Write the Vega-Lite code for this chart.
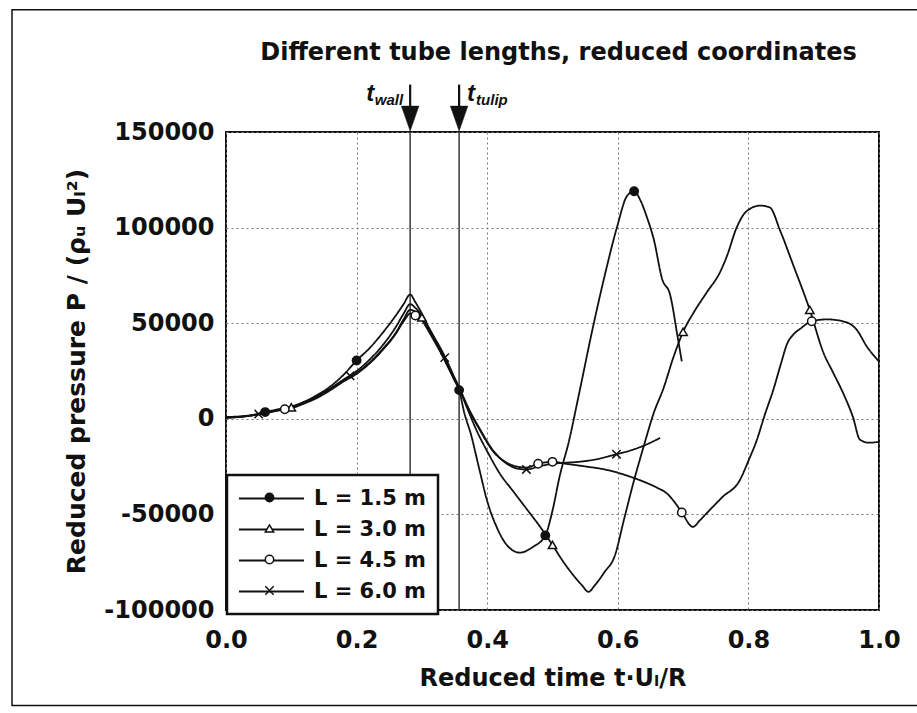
{
  "$schema": "https://vega.github.io/schema/vega-lite/v6.json",
  "width": 653,
  "height": 478,
  "autosize": {"type": "none"},
  "padding": {"left": 226, "top": 132, "right": 38, "bottom": 103},
  "background": "white",
  "title": {
    "text": "Different tube lengths, reduced coordinates",
    "font": "DejaVu Sans",
    "fontSize": 24,
    "fontWeight": "bold",
    "color": "#111",
    "anchor": "middle",
    "dx": 6,
    "offset": -56
  },
  "datasets": {
    "curves": [
      {"L": "L = 1.5 m", "t": 0, "p": 1000}, {"L": "L = 1.5 m", "t": 0.02, "p": 1200}, {"L": "L = 1.5 m", "t": 0.04, "p": 2000}, {"L": "L = 1.5 m", "t": 0.06, "p": 3500}, {"L": "L = 1.5 m", "t": 0.08, "p": 5000}, {"L": "L = 1.5 m", "t": 0.1, "p": 6500}, {"L": "L = 1.5 m", "t": 0.12, "p": 9000}, {"L": "L = 1.5 m", "t": 0.14, "p": 12500}, {"L": "L = 1.5 m", "t": 0.16, "p": 17000}, {"L": "L = 1.5 m", "t": 0.18, "p": 23000}, {"L": "L = 1.5 m", "t": 0.2, "p": 30500}, {"L": "L = 1.5 m", "t": 0.22, "p": 37000}, {"L": "L = 1.5 m", "t": 0.24, "p": 45000}, {"L": "L = 1.5 m", "t": 0.26, "p": 54000}, {"L": "L = 1.5 m", "t": 0.272, "p": 60000}, {"L": "L = 1.5 m", "t": 0.282, "p": 65000}, {"L": "L = 1.5 m", "t": 0.29, "p": 61000}, {"L": "L = 1.5 m", "t": 0.3, "p": 55000}, {"L": "L = 1.5 m", "t": 0.31, "p": 48000}, {"L": "L = 1.5 m", "t": 0.32, "p": 41000}, {"L": "L = 1.5 m", "t": 0.33, "p": 34000}, {"L": "L = 1.5 m", "t": 0.34, "p": 27000}, {"L": "L = 1.5 m", "t": 0.35, "p": 20000}, {"L": "L = 1.5 m", "t": 0.357, "p": 15000}, {"L": "L = 1.5 m", "t": 0.365, "p": 3000}, {"L": "L = 1.5 m", "t": 0.375, "p": -8000}, {"L": "L = 1.5 m", "t": 0.387, "p": -25000}, {"L": "L = 1.5 m", "t": 0.4, "p": -43000}, {"L": "L = 1.5 m", "t": 0.415, "p": -57000}, {"L": "L = 1.5 m", "t": 0.43, "p": -66000}, {"L": "L = 1.5 m", "t": 0.45, "p": -70000}, {"L": "L = 1.5 m", "t": 0.47, "p": -67000}, {"L": "L = 1.5 m", "t": 0.489, "p": -61000}, {"L": "L = 1.5 m", "t": 0.5, "p": -48000}, {"L": "L = 1.5 m", "t": 0.511, "p": -30000}, {"L": "L = 1.5 m", "t": 0.525, "p": -12000}, {"L": "L = 1.5 m", "t": 0.54, "p": 12000}, {"L": "L = 1.5 m", "t": 0.562, "p": 48000}, {"L": "L = 1.5 m", "t": 0.58, "p": 75000}, {"L": "L = 1.5 m", "t": 0.599, "p": 100500}, {"L": "L = 1.5 m", "t": 0.614, "p": 116500}, {"L": "L = 1.5 m", "t": 0.625, "p": 119000}, {"L": "L = 1.5 m", "t": 0.635, "p": 114000}, {"L": "L = 1.5 m", "t": 0.645, "p": 105000}, {"L": "L = 1.5 m", "t": 0.655, "p": 94000}, {"L": "L = 1.5 m", "t": 0.668, "p": 73000}, {"L": "L = 1.5 m", "t": 0.68, "p": 65000}, {"L": "L = 1.5 m", "t": 0.692, "p": 42000}, {"L": "L = 1.5 m", "t": 0.698, "p": 30000},

      {"L": "L = 3.0 m", "t": 0, "p": 500}, {"L": "L = 3.0 m", "t": 0.02, "p": 1000}, {"L": "L = 3.0 m", "t": 0.04, "p": 1800}, {"L": "L = 3.0 m", "t": 0.06, "p": 3000}, {"L": "L = 3.0 m", "t": 0.08, "p": 4500}, {"L": "L = 3.0 m", "t": 0.1, "p": 6000}, {"L": "L = 3.0 m", "t": 0.12, "p": 8500}, {"L": "L = 3.0 m", "t": 0.14, "p": 11500}, {"L": "L = 3.0 m", "t": 0.16, "p": 15500}, {"L": "L = 3.0 m", "t": 0.18, "p": 20000}, {"L": "L = 3.0 m", "t": 0.2, "p": 24000}, {"L": "L = 3.0 m", "t": 0.22, "p": 29500}, {"L": "L = 3.0 m", "t": 0.24, "p": 36500}, {"L": "L = 3.0 m", "t": 0.26, "p": 45000}, {"L": "L = 3.0 m", "t": 0.272, "p": 52000}, {"L": "L = 3.0 m", "t": 0.282, "p": 57000}, {"L": "L = 3.0 m", "t": 0.29, "p": 56000}, {"L": "L = 3.0 m", "t": 0.3, "p": 53000}, {"L": "L = 3.0 m", "t": 0.31, "p": 47000}, {"L": "L = 3.0 m", "t": 0.32, "p": 41000}, {"L": "L = 3.0 m", "t": 0.33, "p": 34500}, {"L": "L = 3.0 m", "t": 0.34, "p": 28000}, {"L": "L = 3.0 m", "t": 0.35, "p": 21000}, {"L": "L = 3.0 m", "t": 0.357, "p": 16000}, {"L": "L = 3.0 m", "t": 0.37, "p": 5000}, {"L": "L = 3.0 m", "t": 0.385, "p": -7000}, {"L": "L = 3.0 m", "t": 0.4, "p": -17000}, {"L": "L = 3.0 m", "t": 0.42, "p": -29000}, {"L": "L = 3.0 m", "t": 0.44, "p": -38000}, {"L": "L = 3.0 m", "t": 0.46, "p": -47000}, {"L": "L = 3.0 m", "t": 0.48, "p": -56000}, {"L": "L = 3.0 m", "t": 0.5, "p": -66000}, {"L": "L = 3.0 m", "t": 0.515, "p": -74000}, {"L": "L = 3.0 m", "t": 0.53, "p": -81000}, {"L": "L = 3.0 m", "t": 0.545, "p": -87000}, {"L": "L = 3.0 m", "t": 0.555, "p": -90500}, {"L": "L = 3.0 m", "t": 0.565, "p": -87000}, {"L": "L = 3.0 m", "t": 0.58, "p": -80000}, {"L": "L = 3.0 m", "t": 0.595, "p": -72000}, {"L": "L = 3.0 m", "t": 0.61, "p": -52000}, {"L": "L = 3.0 m", "t": 0.625, "p": -32000}, {"L": "L = 3.0 m", "t": 0.64, "p": -14000}, {"L": "L = 3.0 m", "t": 0.655, "p": 3000}, {"L": "L = 3.0 m", "t": 0.67, "p": 16000}, {"L": "L = 3.0 m", "t": 0.685, "p": 32000}, {"L": "L = 3.0 m", "t": 0.7, "p": 45500}, {"L": "L = 3.0 m", "t": 0.716, "p": 55500}, {"L": "L = 3.0 m", "t": 0.736, "p": 66000}, {"L": "L = 3.0 m", "t": 0.757, "p": 77000}, {"L": "L = 3.0 m", "t": 0.767, "p": 85000}, {"L": "L = 3.0 m", "t": 0.782, "p": 100000}, {"L": "L = 3.0 m", "t": 0.797, "p": 108500}, {"L": "L = 3.0 m", "t": 0.818, "p": 111500}, {"L": "L = 3.0 m", "t": 0.833, "p": 110500}, {"L": "L = 3.0 m", "t": 0.848, "p": 99000}, {"L": "L = 3.0 m", "t": 0.868, "p": 81000}, {"L": "L = 3.0 m", "t": 0.894, "p": 57000}, {"L": "L = 3.0 m", "t": 0.915, "p": 34500}, {"L": "L = 3.0 m", "t": 0.93, "p": 24000}, {"L": "L = 3.0 m", "t": 0.945, "p": 13500}, {"L": "L = 3.0 m", "t": 0.96, "p": 1000}, {"L": "L = 3.0 m", "t": 0.971, "p": -11000}, {"L": "L = 3.0 m", "t": 0.985, "p": -12500}, {"L": "L = 3.0 m", "t": 1.0, "p": -12000},

      {"L": "L = 4.5 m", "t": 0, "p": 500}, {"L": "L = 4.5 m", "t": 0.02, "p": 1000}, {"L": "L = 4.5 m", "t": 0.04, "p": 1800}, {"L": "L = 4.5 m", "t": 0.06, "p": 3000}, {"L": "L = 4.5 m", "t": 0.08, "p": 4300}, {"L": "L = 4.5 m", "t": 0.1, "p": 5500}, {"L": "L = 4.5 m", "t": 0.12, "p": 8000}, {"L": "L = 4.5 m", "t": 0.14, "p": 11000}, {"L": "L = 4.5 m", "t": 0.16, "p": 15000}, {"L": "L = 4.5 m", "t": 0.18, "p": 19500}, {"L": "L = 4.5 m", "t": 0.2, "p": 23500}, {"L": "L = 4.5 m", "t": 0.22, "p": 29000}, {"L": "L = 4.5 m", "t": 0.24, "p": 36000}, {"L": "L = 4.5 m", "t": 0.26, "p": 44500}, {"L": "L = 4.5 m", "t": 0.272, "p": 51000}, {"L": "L = 4.5 m", "t": 0.282, "p": 55000}, {"L": "L = 4.5 m", "t": 0.29, "p": 54000}, {"L": "L = 4.5 m", "t": 0.3, "p": 51500}, {"L": "L = 4.5 m", "t": 0.31, "p": 46000}, {"L": "L = 4.5 m", "t": 0.32, "p": 40000}, {"L": "L = 4.5 m", "t": 0.33, "p": 34000}, {"L": "L = 4.5 m", "t": 0.34, "p": 27500}, {"L": "L = 4.5 m", "t": 0.35, "p": 20500}, {"L": "L = 4.5 m", "t": 0.357, "p": 16000}, {"L": "L = 4.5 m", "t": 0.37, "p": 6000}, {"L": "L = 4.5 m", "t": 0.389, "p": -6000}, {"L": "L = 4.5 m", "t": 0.409, "p": -17000}, {"L": "L = 4.5 m", "t": 0.43, "p": -23000}, {"L": "L = 4.5 m", "t": 0.446, "p": -25000}, {"L": "L = 4.5 m", "t": 0.46, "p": -25500}, {"L": "L = 4.5 m", "t": 0.478, "p": -23500}, {"L": "L = 4.5 m", "t": 0.5, "p": -22500}, {"L": "L = 4.5 m", "t": 0.52, "p": -23500}, {"L": "L = 4.5 m", "t": 0.552, "p": -25000}, {"L": "L = 4.5 m", "t": 0.58, "p": -26500}, {"L": "L = 4.5 m", "t": 0.603, "p": -28500}, {"L": "L = 4.5 m", "t": 0.625, "p": -31000}, {"L": "L = 4.5 m", "t": 0.644, "p": -33500}, {"L": "L = 4.5 m", "t": 0.66, "p": -36000}, {"L": "L = 4.5 m", "t": 0.675, "p": -39000}, {"L": "L = 4.5 m", "t": 0.69, "p": -45000}, {"L": "L = 4.5 m", "t": 0.698, "p": -49000}, {"L": "L = 4.5 m", "t": 0.715, "p": -56500}, {"L": "L = 4.5 m", "t": 0.726, "p": -53000}, {"L": "L = 4.5 m", "t": 0.74, "p": -48000}, {"L": "L = 4.5 m", "t": 0.76, "p": -41000}, {"L": "L = 4.5 m", "t": 0.787, "p": -32000}, {"L": "L = 4.5 m", "t": 0.8, "p": -22000}, {"L": "L = 4.5 m", "t": 0.813, "p": -11000}, {"L": "L = 4.5 m", "t": 0.825, "p": 2000}, {"L": "L = 4.5 m", "t": 0.838, "p": 15000}, {"L": "L = 4.5 m", "t": 0.85, "p": 29000}, {"L": "L = 4.5 m", "t": 0.859, "p": 39000}, {"L": "L = 4.5 m", "t": 0.87, "p": 44500}, {"L": "L = 4.5 m", "t": 0.879, "p": 47000}, {"L": "L = 4.5 m", "t": 0.897, "p": 51000}, {"L": "L = 4.5 m", "t": 0.92, "p": 52000}, {"L": "L = 4.5 m", "t": 0.945, "p": 51000}, {"L": "L = 4.5 m", "t": 0.966, "p": 46500}, {"L": "L = 4.5 m", "t": 0.981, "p": 38000}, {"L": "L = 4.5 m", "t": 1.0, "p": 30000},

      {"L": "L = 6.0 m", "t": 0, "p": 800}, {"L": "L = 6.0 m", "t": 0.02, "p": 1000}, {"L": "L = 6.0 m", "t": 0.04, "p": 1800}, {"L": "L = 6.0 m", "t": 0.06, "p": 3200}, {"L": "L = 6.0 m", "t": 0.08, "p": 4500}, {"L": "L = 6.0 m", "t": 0.1, "p": 6000}, {"L": "L = 6.0 m", "t": 0.12, "p": 8500}, {"L": "L = 6.0 m", "t": 0.14, "p": 12000}, {"L": "L = 6.0 m", "t": 0.16, "p": 16000}, {"L": "L = 6.0 m", "t": 0.18, "p": 20500}, {"L": "L = 6.0 m", "t": 0.2, "p": 25000}, {"L": "L = 6.0 m", "t": 0.22, "p": 31000}, {"L": "L = 6.0 m", "t": 0.24, "p": 38500}, {"L": "L = 6.0 m", "t": 0.26, "p": 48000}, {"L": "L = 6.0 m", "t": 0.272, "p": 55000}, {"L": "L = 6.0 m", "t": 0.282, "p": 60000}, {"L": "L = 6.0 m", "t": 0.29, "p": 58000}, {"L": "L = 6.0 m", "t": 0.3, "p": 54000}, {"L": "L = 6.0 m", "t": 0.31, "p": 48000}, {"L": "L = 6.0 m", "t": 0.32, "p": 42000}, {"L": "L = 6.0 m", "t": 0.33, "p": 36000}, {"L": "L = 6.0 m", "t": 0.34, "p": 29000}, {"L": "L = 6.0 m", "t": 0.35, "p": 21500}, {"L": "L = 6.0 m", "t": 0.357, "p": 16500}, {"L": "L = 6.0 m", "t": 0.37, "p": 6500}, {"L": "L = 6.0 m", "t": 0.389, "p": -5500}, {"L": "L = 6.0 m", "t": 0.409, "p": -16500}, {"L": "L = 6.0 m", "t": 0.43, "p": -23500}, {"L": "L = 6.0 m", "t": 0.446, "p": -26000}, {"L": "L = 6.0 m", "t": 0.46, "p": -26500}, {"L": "L = 6.0 m", "t": 0.478, "p": -25000}, {"L": "L = 6.0 m", "t": 0.5, "p": -23500}, {"L": "L = 6.0 m", "t": 0.52, "p": -23000}, {"L": "L = 6.0 m", "t": 0.54, "p": -22500}, {"L": "L = 6.0 m", "t": 0.57, "p": -21000}, {"L": "L = 6.0 m", "t": 0.598, "p": -18500}, {"L": "L = 6.0 m", "t": 0.62, "p": -16500}, {"L": "L = 6.0 m", "t": 0.64, "p": -14000}, {"L": "L = 6.0 m", "t": 0.665, "p": -10000}
    ],
    "markers": [
      {"L": "L = 1.5 m", "t": 0.06, "p": 3500}, {"L": "L = 1.5 m", "t": 0.2, "p": 30500}, {"L": "L = 1.5 m", "t": 0.357, "p": 15000}, {"L": "L = 1.5 m", "t": 0.489, "p": -61000}, {"L": "L = 1.5 m", "t": 0.625, "p": 119000},
      {"L": "L = 3.0 m", "t": 0.1, "p": 6000}, {"L": "L = 3.0 m", "t": 0.3, "p": 53000}, {"L": "L = 3.0 m", "t": 0.5, "p": -66000}, {"L": "L = 3.0 m", "t": 0.7, "p": 45500}, {"L": "L = 3.0 m", "t": 0.894, "p": 57000},
      {"L": "L = 4.5 m", "t": 0.09, "p": 5000}, {"L": "L = 4.5 m", "t": 0.29, "p": 54000}, {"L": "L = 4.5 m", "t": 0.478, "p": -23500}, {"L": "L = 4.5 m", "t": 0.5, "p": -22500}, {"L": "L = 4.5 m", "t": 0.698, "p": -49000}, {"L": "L = 4.5 m", "t": 0.897, "p": 51000},
      {"L": "L = 6.0 m", "t": 0.05, "p": 2500}, {"L": "L = 6.0 m", "t": 0.19, "p": 22500}, {"L": "L = 6.0 m", "t": 0.335, "p": 32000}, {"L": "L = 6.0 m", "t": 0.46, "p": -26500}, {"L": "L = 6.0 m", "t": 0.598, "p": -18500}
    ],
    "events": [
      {"name": "wall", "t": 0.282},
      {"name": "tulip", "t": 0.357}
    ],
    "frame": [
      {"t": -0.3277, "t2": 1.078, "p": 214000, "p2": -150000}
    ]
  },
  "encoding": {
    "x": {
      "field": "t",
      "type": "quantitative",
      "scale": {"domain": [0, 1], "nice": false, "zero": false},
      "axis": {"values": [0, 0.2, 0.4, 0.6, 0.8, 1], "format": ".1f", "title": "Reduced time t·Uₗ/R"}
    }
  },
  "layer": [
    {
      "data": {"name": "frame"},
      "mark": {"type": "rect", "fill": null, "stroke": "#111", "strokeWidth": 1.5},
      "encoding": {
        "x2": {"field": "t2"},
        "y": {"field": "p", "type": "quantitative", "axis": {"values": [-100000, -50000, 0, 50000, 100000, 150000], "format": "d", "labelExpr": "replace(datum.label, '−', '-')", "title": "Reduced pressure  P / (ρᵤ Uₗ²)"}},
        "y2": {"field": "p2"}
      }
    },
    {
      "data": {"name": "events"},
      "mark": {"type": "rule", "stroke": "#444", "strokeWidth": 1.6},
      "encoding": {}
    },
    {
      "data": {"name": "curves"},
      "mark": {"type": "line", "stroke": "#111", "strokeWidth": 1.8, "interpolate": "monotone"},
      "encoding": {
        "y": {
          "field": "p",
          "type": "quantitative",
          "scale": {"domain": [-100000, 150000], "nice": false, "zero": false},
          "axis": {"values": [-100000, -50000, 0, 50000, 100000, 150000], "format": "d", "labelExpr": "replace(datum.label, '−', '-')", "title": "Reduced pressure  P / (ρᵤ Uₗ²)"}
        },
        "strokeDash": {
          "field": "L",
          "type": "nominal",
          "scale": {"range": [[1, 0], [1, 0], [1, 0], [1, 0]]},
          "legend": {
            "orient": "none", "legendX": 1, "legendY": 343, "title": null,
            "symbolType": "M-3.1,0H3.1",
            "symbolSize": 441, "symbolOffset": 21, "labelOffset": 31,
            "symbolStrokeWidth": 1.8, "symbolStrokeColor": "#111",
            "strokeColor": "#111", "fillColor": "white"
          }
        }
      }
    },
    {
      "data": {"name": "markers"},
      "mark": {"type": "point", "strokeWidth": 1.5, "size": 70, "opacity": 1},
      "encoding": {
        "y": {"field": "p", "type": "quantitative", "axis": {"values": [-100000, -50000, 0, 50000, 100000, 150000], "format": "d", "labelExpr": "replace(datum.label, '−', '-')", "title": "Reduced pressure  P / (ρᵤ Uₗ²)"}},
        "stroke": {
          "field": "L",
          "type": "nominal",
          "scale": {"domain": ["L = 1.5 m", "L = 3.0 m", "L = 4.5 m", "L = 6.0 m"], "range": ["#111", "#111", "#111", "#111"]},
          "legend": {
            "orient": "none", "legendX": 21, "legendY": 343, "title": null,
            "symbolSize": 70, "symbolStrokeWidth": 1.5, "labelOpacity": 0, "labelOffset": 31, "strokeColor": "transparent", "fillColor": "transparent"
          }
        },
        "shape": {
          "field": "L",
          "type": "nominal",
          "scale": {"domain": ["L = 1.5 m", "L = 3.0 m", "L = 4.5 m", "L = 6.0 m"], "range": ["circle", "triangle-up", "circle", "M-1,-1L1,1M1,-1L-1,1"]},
          "legend": {
            "orient": "none", "legendX": 21, "legendY": 343, "title": null,
            "symbolSize": 70, "symbolStrokeWidth": 1.5, "labelOpacity": 0, "labelOffset": 31, "strokeColor": "transparent", "fillColor": "transparent"
          }
        },
        "fill": {
          "field": "L",
          "type": "nominal",
          "scale": {"domain": ["L = 1.5 m", "L = 3.0 m", "L = 4.5 m", "L = 6.0 m"], "range": ["#111", "white", "white", "white"]},
          "legend": {
            "orient": "none", "legendX": 21, "legendY": 343, "title": null,
            "symbolSize": 70, "symbolStrokeWidth": 1.5, "labelOpacity": 0, "labelOffset": 31, "strokeColor": "transparent", "fillColor": "transparent"
          }
        }
      }
    },
    {
      "data": {"name": "events"},
      "mark": {"type": "rule", "stroke": "#111", "strokeWidth": 2.2},
      "encoding": {
        "y": {"datum": 174800, "type": "quantitative", "axis": {"values": [-100000, -50000, 0, 50000, 100000, 150000], "format": "d", "labelExpr": "replace(datum.label, '−', '-')", "title": "Reduced pressure  P / (ρᵤ Uₗ²)"}},
        "y2": {"datum": 158000}
      }
    },
    {
      "data": {"name": "events"},
      "mark": {"type": "point", "shape": "M-0.7,-1L0.7,-1L0,1Z", "size": 625, "filled": true, "fill": "#111", "stroke": "#111", "strokeWidth": 0.5, "opacity": 1},
      "encoding": {
        "y": {"datum": 157000, "type": "quantitative", "axis": {"values": [-100000, -50000, 0, 50000, 100000, 150000], "format": "d", "labelExpr": "replace(datum.label, '−', '-')", "title": "Reduced pressure  P / (ρᵤ Uₗ²)"}}
      }
    },
    {
      "data": {"name": "events"},
      "transform": [{"filter": "datum.name === 'wall'"}],
      "mark": {"type": "text", "text": "wall", "font": "Liberation Sans", "fontSize": 15, "fontWeight": "bold", "fontStyle": "italic", "align": "right", "baseline": "alphabetic", "dx": -7, "color": "#111"},
      "encoding": {"y": {"datum": 164300, "type": "quantitative", "axis": {"values": [-100000, -50000, 0, 50000, 100000, 150000], "format": "d", "labelExpr": "replace(datum.label, '−', '-')", "title": "Reduced pressure  P / (ρᵤ Uₗ²)"}}}
    },
    {
      "data": {"name": "events"},
      "transform": [{"filter": "datum.name === 'wall'"}],
      "mark": {"type": "text", "text": "t", "font": "Liberation Sans", "fontSize": 24, "fontWeight": "bold", "fontStyle": "italic", "align": "right", "baseline": "alphabetic", "dx": -36, "color": "#111"},
      "encoding": {"y": {"datum": 166400, "type": "quantitative", "axis": {"values": [-100000, -50000, 0, 50000, 100000, 150000], "format": "d", "labelExpr": "replace(datum.label, '−', '-')", "title": "Reduced pressure  P / (ρᵤ Uₗ²)"}}}
    },
    {
      "data": {"name": "events"},
      "transform": [{"filter": "datum.name === 'tulip'"}],
      "mark": {"type": "text", "text": "t", "font": "Liberation Sans", "fontSize": 24, "fontWeight": "bold", "fontStyle": "italic", "align": "left", "baseline": "alphabetic", "dx": 8, "color": "#111"},
      "encoding": {"y": {"datum": 166400, "type": "quantitative", "axis": {"values": [-100000, -50000, 0, 50000, 100000, 150000], "format": "d", "labelExpr": "replace(datum.label, '−', '-')", "title": "Reduced pressure  P / (ρᵤ Uₗ²)"}}}
    },
    {
      "data": {"name": "events"},
      "transform": [{"filter": "datum.name === 'tulip'"}],
      "mark": {"type": "text", "text": "tulip", "font": "Liberation Sans", "fontSize": 15, "fontWeight": "bold", "fontStyle": "italic", "align": "left", "baseline": "alphabetic", "dx": 17, "color": "#111"},
      "encoding": {"y": {"datum": 164300, "type": "quantitative", "axis": {"values": [-100000, -50000, 0, 50000, 100000, 150000], "format": "d", "labelExpr": "replace(datum.label, '−', '-')", "title": "Reduced pressure  P / (ρᵤ Uₗ²)"}}}
    }
  ],
  "config": {
    "view": {"stroke": "#111", "strokeWidth": 2},
    "axis": {
      "labelFont": "DejaVu Sans", "labelFontWeight": "bold", "labelFontSize": 24, "labelColor": "#111",
      "titleFont": "DejaVu Sans", "titleFontWeight": "bold", "titleFontSize": 23, "titleColor": "#111",
      "domain": false, "ticks": false, "grid": true, "gridColor": "#777", "gridDash": [2, 3], "gridWidth": 1,
      "labelOverlap": false, "labelBound": false, "labelFlush": false
    },
    "axisX": {"labelPadding": 18, "titlePadding": 14, "titleFontSize": 24},
    "axisY": {"labelPadding": 12, "titlePadding": 14, "titleFontSize": 25},
    "legend": {
      "padding": 12, "strokeWidth": 2.5,
      "labelFont": "DejaVu Sans", "labelFontSize": 21, "labelFontWeight": "bold", "labelColor": "#111",
      "rowPadding": 9, "symbolStrokeWidth": 1.5, "symbolStrokeColor": "#111", "labelLimit": 300
    }
  }
}
